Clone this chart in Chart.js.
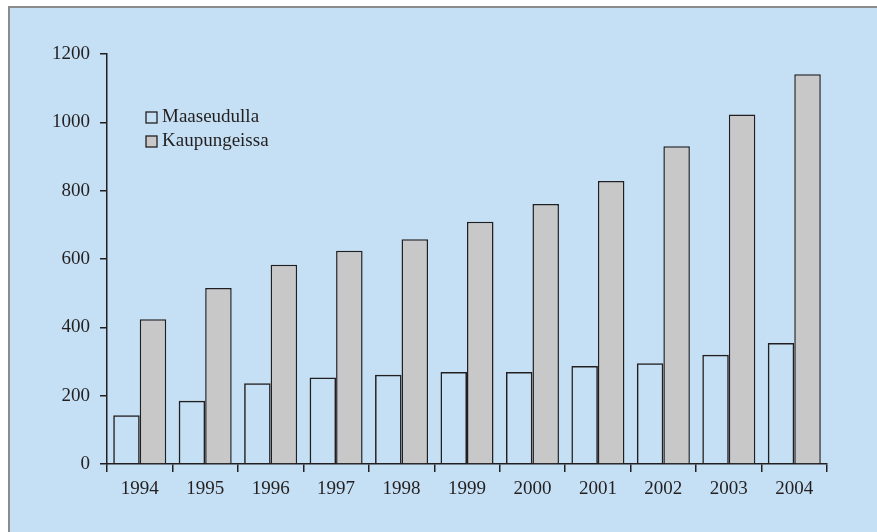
<!DOCTYPE html>
<html>
<head>
<meta charset="utf-8">
<script src="https://cdn.jsdelivr.net/npm/chart.js@4.4.1/dist/chart.umd.min.js"></script>
<style>
  body { margin: 0; background: #ffffff; }
  #frame {
    position: absolute; left: 8px; top: 6px; right: 0; bottom: 0;
    border-top: 2px solid #8c8c8c; border-left: 2px solid #8c8c8c;
    background: #c5e0f4;
  }
  #wrap { position: absolute; left: 0; top: 0; width: 877px; height: 532px; }
</style>
</head>
<body>
<div id="frame"></div>
<div id="wrap"><canvas id="graphique" width="877" height="532"></canvas></div>
<script>
const annees = ['1994', '1995', '1996', '1997', '1998', '1999', '2000', '2001', '2002', '2003', '2004'];
const maaseudulla = [143, 185, 236, 253, 261, 269, 269, 287, 295, 320, 354];
const kaupungeissa = [424, 515, 583, 624, 658, 709, 761, 828, 930, 1023, 1141];
const yTicks = [0, 200, 400, 600, 800, 1000, 1200];

const ink = '#231f20';
const police = { family: '"Liberation Serif", "Times New Roman", serif', size: 19 };

// legend drawn inside the plot, top left
const legendeInterne = {
    id: 'legendeInterne',
    afterDraw(chart) {
        const ctx = chart.ctx;
        ctx.save();
        ctx.font = police.size + 'px ' + police.family;
        ctx.textBaseline = 'middle';
        chart.data.datasets.forEach((ds, i) => {
            const y = 117 + i * 24;
            ctx.fillStyle = ds.backgroundColor;
            ctx.fillRect(146, y - 5, 11, 11);
            ctx.strokeStyle = ink;
            ctx.lineWidth = 1.3;
            ctx.strokeRect(146, y - 5, 11, 11);
            ctx.fillStyle = ink;
            ctx.fillText(ds.label, 162, y);
        });
        ctx.restore();
    }
};

const tableau = document.getElementById('graphique').getContext('2d');

new Chart(tableau, {
    type: 'bar',
    data: {
        labels: annees,
        datasets: [
            {
                label: 'Maaseudulla',
                data: maaseudulla,
                backgroundColor: 'rgba(0,0,0,0)',
                borderColor: ink,
                borderWidth: 1.5,
                categoryPercentage: 0.81,
                barPercentage: 1.0
            },
            {
                label: 'Kaupungeissa',
                data: kaupungeissa,
                backgroundColor: '#c8c8c8',
                borderColor: ink,
                borderWidth: 1.5,
                categoryPercentage: 0.81,
                barPercentage: 1.0
            }
        ]
    },
    options: {
        responsive: false,
        animation: false,
        layout: { padding: { top: 54, right: 50, bottom: 0, left: 0 } },
        plugins: {
            legend: { display: false },
            tooltip: { enabled: false }
        },
        scales: {
            x: {
                offset: true,
                grid: {
                    offset: true,
                    drawOnChartArea: false,
                    drawTicks: true,
                    tickLength: 8,
                    color: ink,
                    lineWidth: 1.5
                },
                border: { display: true, color: ink, width: 1.5 },
                ticks: { color: ink, font: police, padding: 6, maxRotation: 0 },
                afterFit(scale) { scale.height = 68; }
            },
            y: {
                min: 0,
                max: 1200,
                afterBuildTicks(scale) { scale.ticks = yTicks.map(v => ({ value: v })); },
                grid: {
                    drawOnChartArea: false,
                    drawTicks: true,
                    tickLength: 7,
                    color: ink,
                    lineWidth: 1.5
                },
                border: { display: true, color: ink, width: 1.5 },
                ticks: { color: ink, font: police, padding: 10, callback: v => String(v) },
                afterFit(scale) { scale.width = 107; }
            }
        }
    },
    plugins: [legendeInterne]
});
</script>
</body>
</html>
